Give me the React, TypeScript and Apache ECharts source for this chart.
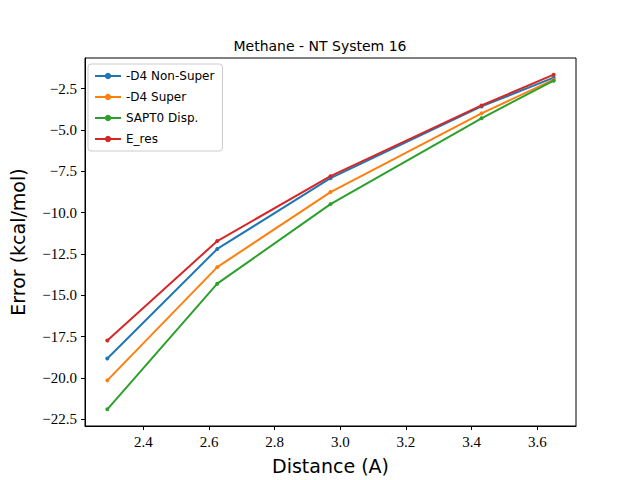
import React, { useEffect, useRef } from "react";
import * as echarts from "echarts";

const distances = [2.29, 2.625, 2.97, 3.43, 3.65];
const nonSuper = [-18.83, -12.2, -7.92, -3.58, -1.84];
const superD4 = [-20.15, -13.3, -8.76, -4.0, -1.96];
const sapt0 = [-21.9, -14.3, -9.49, -4.3, -2.02];
const eRes = [-17.74, -11.72, -7.8, -3.52, -1.66];
const xTicks = [2.4, 2.6, 2.8, 3.0, 3.2, 3.4, 3.6];
const yTicks = [-22.5, -20.0, -17.5, -15.0, -12.5, -10.0, -7.5, -5.0, -2.5];

const seriesList = [
  { name: "-D4 Non-Super", color: "#1f77b4", data: nonSuper },
  { name: "-D4 Super", color: "#ff7f0e", data: superD4 },
  { name: "SAPT0 Disp.", color: "#2ca02c", data: sapt0 },
  { name: "E_res", color: "#d62728", data: eRes },
];

const serif = "'Liberation Serif', 'DejaVu Serif', serif";
const sans = "'DejaVu Sans', sans-serif";

const App: React.FC = () => {
  const chartRef = useRef<HTMLDivElement | null>(null);

  useEffect(() => {
    document.body.style.margin = "0";
    if (!chartRef.current) return;
    const chart = echarts.init(chartRef.current, undefined, { renderer: "svg" });
    chart.setOption({
      animation: false,
      backgroundColor: "#fff",
      title: {
        text: "Methane - NT System 16",
        left: "center",
        top: 34,
        textStyle: { fontFamily: sans, fontSize: 14, fontWeight: "normal", color: "#000" },
      },
      legend: {
        orient: "vertical",
        left: 88,
        top: 64,
        itemWidth: 26,
        itemHeight: 8,
        itemGap: 9,
        padding: [6, 8, 6, 6],
        backgroundColor: "#fff",
        borderColor: "#ccc",
        borderWidth: 1,
        borderRadius: 3,
        textStyle: { fontFamily: sans, fontSize: 12, color: "#000" },
      },
      grid: { left: 80, right: 64, top: 58, bottom: 53, show: true, borderColor: "#000", borderWidth: 1 },
      xAxis: {
        type: "value",
        min: 2.222,
        max: 3.718,
        name: "Distance (A)",
        nameLocation: "middle",
        nameGap: 30,
        nameTextStyle: { fontFamily: sans, fontSize: 19, color: "#000" },
        axisLine: { show: true, lineStyle: { color: "#000" } },
        axisTick: { show: true, length: 4, customValues: xTicks, lineStyle: { color: "#000" } },
        axisLabel: {
          customValues: xTicks,
          formatter: (v: number) => v.toFixed(1),
          fontFamily: serif,
          fontSize: 15,
          color: "#000",
        },
        splitLine: { show: false },
      },
      yAxis: {
        type: "value",
        min: -22.91,
        max: -0.65,
        name: "Error (kcal/mol)",
        nameLocation: "middle",
        nameGap: 58,
        nameTextStyle: { fontFamily: sans, fontSize: 19, color: "#000" },
        axisLine: { show: true, lineStyle: { color: "#000" } },
        axisTick: { show: true, length: 4, customValues: yTicks, lineStyle: { color: "#000" } },
        axisLabel: {
          customValues: yTicks,
          formatter: (v: number) => v.toFixed(1).replace("-", "\u2212"),
          fontFamily: serif,
          fontSize: 15,
          color: "#000",
        },
        splitLine: { show: false },
      },
      series: seriesList.map(s => ({
        name: s.name,
        type: "line",
        data: distances.map((d, i) => [d, s.data[i]]),
        symbol: "circle",
        symbolSize: 4,
        color: s.color,
        lineStyle: { color: s.color, width: 2 },
        itemStyle: { color: s.color },
      })),
    });
    return () => chart.dispose();
  }, []);

  return <div ref={chartRef} style={{ width: 640, height: 480 }} />;
};

export default App;
